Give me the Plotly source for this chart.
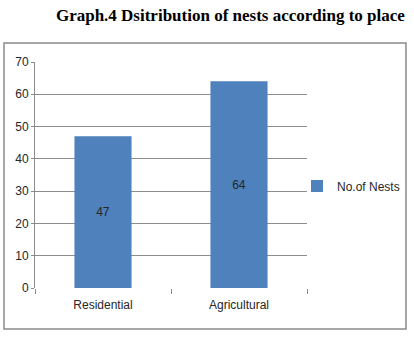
import plotly.graph_objects as go

# Nest counts by place
places = ["Residential", "Agricultural"]
nests = [47, 64]
series_name = "No.of Nests"
y_ticks = [0, 10, 20, 30, 40, 50, 60, 70]

BAR_BLUE = "#4F81BD"
GRID = "#8c8c8c"
TEXT = "#262626"
LABEL_FONT = "Liberation Sans Narrow, Arial Narrow, Liberation Sans, sans-serif"

fig = go.Figure()
fig.add_trace(go.Bar(
    x=places,
    y=nests,
    name=series_name,
    marker=dict(color=BAR_BLUE, line=dict(width=0)),
    text=[str(v) for v in nests],
    textposition="inside",
    insidetextanchor="middle",
    textfont=dict(family=LABEL_FONT, size=12, color=TEXT),
    showlegend=True,
))

# plot area: x 35..307 px, y 62..288 px
L, R, T, B = 35, 107, 62, 62
W, H = 414, 350
pw, ph = W - L - R, H - T - B

def px_x(p):
    return (p - L) / pw

def px_y(p):
    return (H - B - p) / ph

fig.update_layout(
    width=W, height=H,
    margin=dict(l=L, r=R, t=T, b=B, pad=0, autoexpand=False),
    paper_bgcolor="white",
    plot_bgcolor="white",
    bargap=0.58,
    title=dict(
        text="<b>Graph.4 Dsitribution of nests according to place</b>",
        font=dict(family="Liberation Serif, Times New Roman, serif", size=17, color="#000"),
        xref="container", x=0.978, xanchor="right",
        yref="container", y=1 - 15 / H, yanchor="middle",
    ),
    legend=dict(
        xref="container", x=297 / W, xanchor="left",
        yref="container", y=1 - 186 / H, yanchor="middle",
        font=dict(family=LABEL_FONT, size=12, color=TEXT),
        bgcolor="rgba(0,0,0,0)",
        borderwidth=0,
    ),
    xaxis=dict(
        type="category",
        showgrid=False,
        showline=False,
        zeroline=False,
        ticks="outside",
        tickson="boundaries",
        ticklen=5,
        tickcolor=GRID,
        tickfont=dict(family=LABEL_FONT, size=12, color=TEXT),
        ticklabelstandoff=8,
    ),
    yaxis=dict(
        range=[0, 70],
        tickvals=y_ticks,
        showgrid=True,
        gridcolor=GRID,
        gridwidth=1,
        showline=True,
        linecolor=GRID,
        linewidth=1,
        zeroline=False,
        ticks="outside",
        ticklen=3,
        tickcolor=GRID,
        tickfont=dict(family=LABEL_FONT, size=12, color=TEXT),
    ),
    shapes=[dict(
        type="rect", xref="paper", yref="paper",
        x0=px_x(4), x1=px_x(406), y0=px_y(329), y1=px_y(43),
        line=dict(color="#8a8a8a", width=1.5),
        fillcolor="rgba(0,0,0,0)",
        layer="below",
    )],
)

fig.write_html("out.html")
